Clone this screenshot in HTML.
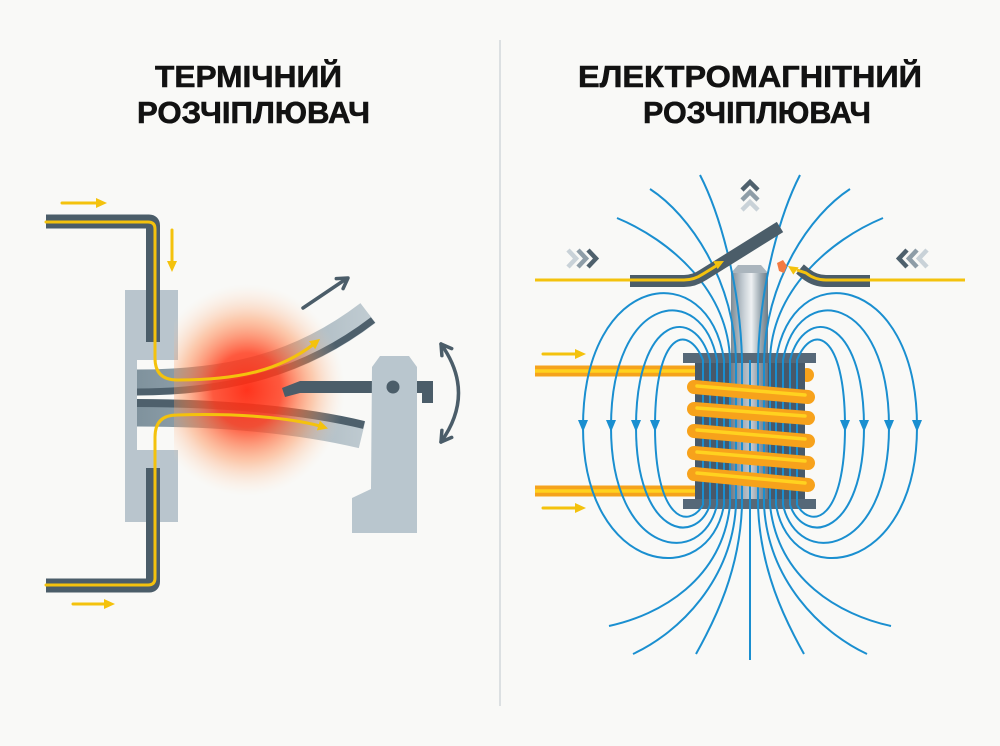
<!DOCTYPE html>
<html><head><meta charset="utf-8">
<style>
html,body{margin:0;padding:0;background:#f9f9f7;}
svg{display:block;}
.t{font-family:"Liberation Sans","DejaVu Sans",sans-serif;font-weight:bold;font-size:31px;fill:#121212;stroke:#121212;stroke-width:0.6;}
</style></head><body>
<svg width="1000" height="746" viewBox="0 0 1000 746" xmlns="http://www.w3.org/2000/svg">
<defs>
 <radialGradient id="glow" cx="0.5" cy="0.5" r="0.5">
  <stop offset="0" stop-color="#ff2a12" stop-opacity="0.95"/>
  <stop offset="0.35" stop-color="#ff3d1e" stop-opacity="0.85"/>
  <stop offset="0.68" stop-color="#ff8a4a" stop-opacity="0.42"/>
  <stop offset="1" stop-color="#ffd8b8" stop-opacity="0"/>
 </radialGradient>
 <linearGradient id="strip" x1="137" x2="380" y1="0" y2="0" gradientUnits="userSpaceOnUse">
  <stop offset="0" stop-color="#7f929d"/>
  <stop offset="1" stop-color="#c3ced4"/>
 </linearGradient>
 <linearGradient id="metal" x1="0" x2="1" y1="0" y2="0">
  <stop offset="0" stop-color="#7e8c96"/>
  <stop offset="0.35" stop-color="#c9d1d7"/>
  <stop offset="0.55" stop-color="#eef1f3"/>
  <stop offset="0.8" stop-color="#9aa7b0"/>
  <stop offset="1" stop-color="#6d7b86"/>
 </linearGradient>
 <clipPath id="gclip"><rect x="174" y="250" width="300" height="300"/></clipPath>
</defs>

<rect width="1000" height="746" fill="#f9f9f7"/>

<!-- titles -->
<text class="t" x="155" y="87" textLength="187" lengthAdjust="spacingAndGlyphs">ТЕРМІЧНИЙ</text>
<text class="t" x="137" y="123" textLength="233" lengthAdjust="spacingAndGlyphs">РОЗЧІПЛЮВАЧ</text>
<text class="t" x="578" y="87" textLength="344" lengthAdjust="spacingAndGlyphs">ЕЛЕКТРОМАГНІТНИЙ</text>
<text class="t" x="643" y="123" textLength="228" lengthAdjust="spacingAndGlyphs">РОЗЧІПЛЮВАЧ</text>

<!-- divider -->
<line x1="500" y1="40" x2="500" y2="706" stroke="#d3d8dc" stroke-width="1.5"/>

<!-- ============ LEFT: thermal ============ -->
<path d="M125,290 H178 V360 H137 V450 H178 V522 H125 Z" fill="#b9c5cd"/>

<path d="M137,382 C230,382 300,365 368,313" fill="none" stroke="url(#strip)" stroke-width="25"/>
<path d="M137,392 C230,392 305,372 373,320" fill="none" stroke="#4e606c" stroke-width="7"/>
<path d="M137,413 C220,413 300,420 362,435" fill="none" stroke="url(#strip)" stroke-width="27"/>
<path d="M137,403 C220,403 302,410 364,425" fill="none" stroke="#4e606c" stroke-width="8"/>

<g clip-path="url(#gclip)">
 <ellipse cx="247" cy="390" rx="98" ry="106" fill="url(#glow)"/>
</g>

<path d="M46,221.5 H149 Q153,221.5 153,225.5 V342" fill="none" stroke="#4b5d69" stroke-width="14" stroke-linejoin="round"/>
<path d="M46,585.5 H149 Q153,585.5 153,581.5 V468" fill="none" stroke="#4b5d69" stroke-width="14" stroke-linejoin="round"/>

<g fill="none" stroke="#f4c20d" stroke-width="3" stroke-linecap="round">
 <path d="M46,222 H148 Q155,222 155,229 V358 Q155,380 177,380 C240,380 280,370 314,344"/>
 <path d="M46,585 H148 Q155,585 155,578 V437 Q155,415 177,415 C240,413 290,418 320,426"/>
 <line x1="62" y1="203" x2="98" y2="203"/>
 <line x1="172" y1="230" x2="172" y2="263"/>
 <line x1="73" y1="604" x2="106" y2="604"/>
</g>
<g fill="#f4c20d">
 <polygon points="96,198 107,203 96,208"/>
 <polygon points="167,261 172,272 177,261"/>
 <polygon points="104,599 115,604 104,609"/>
 <polygon points="320,339 315.2,349.2 309,341.2"/>
 <polygon points="328,428.5 316.9,430.4 319.9,420.8"/>
</g>

<path d="M282,388 L300,381 H433 V403 H422 V393 H300 L285,397 Z" fill="#4b5d69"/>
<path d="M372,367 L380,356 H409 L417,367 V533 H352 V498 L371,489 Z" fill="#b9c6ce"/>
<circle cx="393" cy="387" r="6.5" fill="#4b5d69"/>

<g fill="none" stroke="#4b5d69" stroke-width="3.5" stroke-linecap="round" stroke-linejoin="round">
 <line x1="303" y1="308" x2="346" y2="279"/>
 <polyline points="336.3,278.6 348,278 343.1,288.6"/>
 <path d="M441,344 Q476,393 441,442"/>
 <polyline points="451.7,348.6 441,344 441.9,355.6"/>
 <polyline points="451.7,437.4 441,442 441.9,430.4"/>
</g>

<!-- ============ RIGHT: electromagnetic ============ -->
<g stroke-linecap="butt">
 <line x1="535" y1="371" x2="700" y2="371" stroke="#f5a31c" stroke-width="11"/>
 <line x1="535" y1="371" x2="700" y2="371" stroke="#ffd21f" stroke-width="3.5"/>
 <line x1="535" y1="491" x2="700" y2="491" stroke="#f5a31c" stroke-width="11"/>
 <line x1="535" y1="491" x2="700" y2="491" stroke="#ffd21f" stroke-width="3.5"/>
</g>
<g stroke="#f4c20d" stroke-width="3" stroke-linecap="round"><line x1="543" y1="354" x2="577" y2="354"/><line x1="543" y1="508" x2="577" y2="508"/></g>
<g fill="#f4c20d"><polygon points="575,349 586,354 575,359"/><polygon points="575,503 586,508 575,513"/></g>

<circle cx="807" cy="375" r="7" fill="#f7a21b"/>
<rect x="695" y="363" width="110" height="136" fill="#47596a"/>
<rect x="731" y="273" width="37" height="232" fill="url(#metal)"/>
<polygon points="731,273 738,265 761,265 768,273" fill="#aab5bd"/>
<rect x="731" y="363" width="37" height="136" fill="#47596a" opacity="0.25"/>
<rect x="683" y="353" width="133" height="10" fill="#566878"/>
<rect x="683" y="499" width="133" height="10" fill="#566878"/>

<g fill="none" stroke="#1a8fd0" stroke-width="2">
 <path d="M724,505 L724,360 C709,255 583,271 583,427 C583,576 709,592 724,505"/>
 <path d="M717,505 L717,360 C702,280 611,293 611,427 C611,556 702,570 717,505"/>
 <path d="M710,505 L710,360 C695,304 636,315 636,427 C636,535 695,547 710,505"/>
 <path d="M703,505 L703,360 C688,323 655,331 655,427 C655,520 688,530 703,505"/>
 <path d="M776,505 L776,360 C791,255 917,271 917,427 C917,576 791,592 776,505"/>
 <path d="M783,505 L783,360 C798,280 889,293 889,427 C889,556 798,570 783,505"/>
 <path d="M790,505 L790,360 C805,304 864,315 864,427 C864,535 805,547 790,505"/>
 <path d="M797,505 L797,360 C812,323 845,331 845,427 C845,520 812,530 797,505"/>
 <path d="M617,218 C670,240 728,290 730,360 L730,505 C722,580 660,615 609,626"/>
 <path d="M650,189 C690,215 734,280 736,360 L736,505 C732,580 680,632 633,654"/>
 <path d="M700,175 C718,210 740,280 742,360 L742,505 C740,570 715,620 696,654"/>
 <path d="M750,360 L750,660"/>
 <path d="M800,175 C782,210 760,280 758,360 L758,505 C760,570 785,620 804,654"/>
 <path d="M850,189 C810,215 766,280 764,360 L764,505 C768,580 820,632 867,654"/>
 <path d="M883,218 C830,240 772,290 770,360 L770,505 C778,580 840,615 891,626"/>
</g>
<g fill="#1a8fd0">
 <polygon points="578,420 588,420 583,432"/>
 <polygon points="606,420 616,420 611,432"/>
 <polygon points="631,420 641,420 636,432"/>
 <polygon points="650,420 660,420 655,432"/>
 <polygon points="840,420 850,420 845,432"/>
 <polygon points="859,420 869,420 864,432"/>
 <polygon points="884,420 894,420 889,432"/>
 <polygon points="912,420 922,420 917,432"/>
</g>

<g stroke-linecap="round">
 <g stroke="#f7a21b" stroke-width="14">
  <line x1="694" y1="387" x2="808" y2="397"/>
  <line x1="694" y1="409" x2="808" y2="418"/>
  <line x1="694" y1="431" x2="808" y2="441"/>
  <line x1="694" y1="453" x2="808" y2="463"/>
  <line x1="694" y1="474" x2="808" y2="485"/>
 </g>
 <g stroke="#ffd21f" stroke-width="3.5">
  <line x1="697" y1="386" x2="805" y2="395"/>
  <line x1="697" y1="408" x2="805" y2="416"/>
  <line x1="697" y1="430" x2="805" y2="439"/>
  <line x1="697" y1="452" x2="805" y2="461"/>
  <line x1="697" y1="473" x2="805" y2="483"/>
 </g>
</g>

<g fill="none" stroke="#4b5d69" stroke-width="12" stroke-linecap="butt" stroke-linejoin="round">
 <path d="M630,281 H684 Q694,281 703,275 L780,227"/>
 <path d="M870,281 H826 Q815,281 806,274 L800,269"/>
</g>
<g fill="none" stroke="#f4c20d" stroke-width="3">
 <path d="M535,280 H684 Q694,280 703,274 L716,266"/>
 <path d="M965,280 H826 Q815,280 806,273 L797,270"/>
</g>
<g fill="#f4c20d">
 <polygon points="724,261 717.7,269.1 713.1,261.3"/>
 <polygon points="788,266 798.7,267.4 793.3,274.6"/>
</g>
<polygon points="777,263 783,260 787,266 784,273 779,271" fill="#f47a42"/>

<g fill="none" stroke-width="4.5" stroke-linejoin="miter" stroke-linecap="butt">
 <polyline points="568,250 576,258.5 568,267" stroke="#c9d2d8"/>
 <polyline points="578,250 586,258.5 578,267" stroke="#8e9da7"/>
 <polyline points="588,250 596,258.5 588,267" stroke="#4e606c"/>
 <polyline points="907,250 899,258.5 907,267" stroke="#4e606c"/>
 <polyline points="917,250 909,258.5 917,267" stroke="#8e9da7"/>
 <polyline points="927,250 919,258.5 927,267" stroke="#c9d2d8"/>
 <polyline points="742,190 750,182 758,190" stroke="#4e606c"/>
 <polyline points="742,200 750,192 758,200" stroke="#8e9da7"/>
 <polyline points="742,210 750,202 758,210" stroke="#c9d2d8"/>
</g>
</svg>
</body></html>
